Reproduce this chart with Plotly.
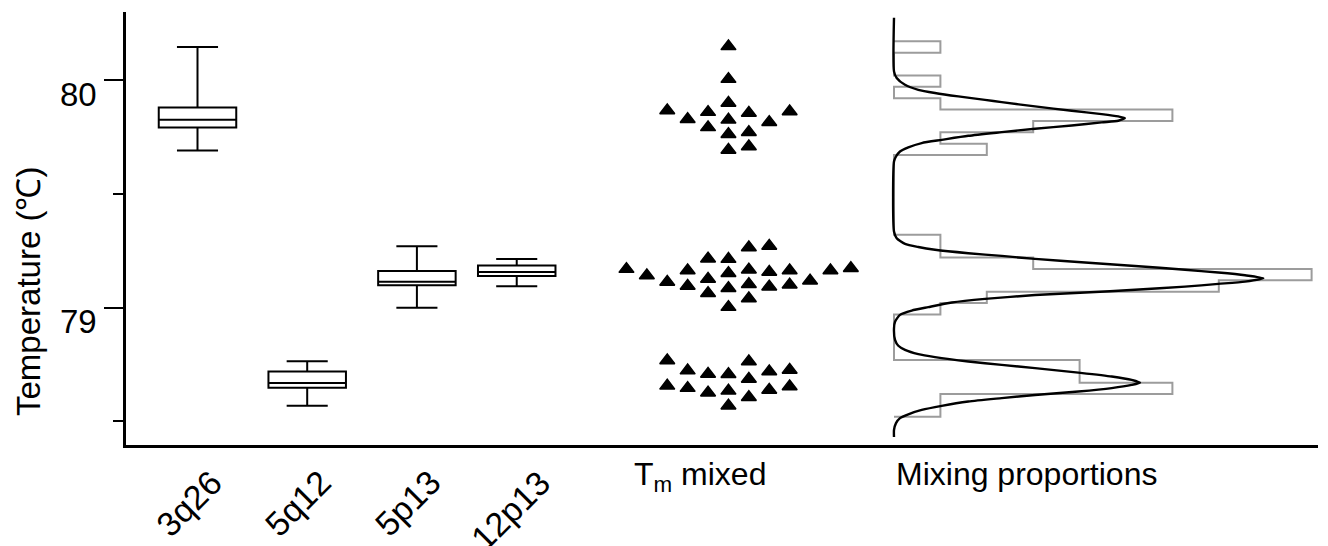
import numpy as np
import plotly.graph_objects as go

# ---------------- data ----------------
categories = ["3q26", "5q12", "5p13", "12p13"]
box_low = [79.690, 78.569, 78.999, 79.094]
box_q1 = [79.791, 78.648, 79.098, 79.139]
box_med = [79.825, 78.669, 79.114, 79.156]
box_q3 = [79.879, 78.719, 79.161, 79.185]
box_high = [80.145, 78.764, 79.270, 79.213]

mixed_label = "T<sub>m</sub> mixed"
mixed_tm = [
    80.148, 80.004, 79.899, 79.862, 79.855, 79.825, 79.792, 79.815, 79.762,
    79.828, 79.859, 79.866, 79.771, 79.708, 79.693,
    79.163, 79.156, 79.141, 79.118, 79.173, 79.103, 79.166, 79.095, 79.063,
    79.264, 79.213, 79.092, 79.002, 79.169, 79.215, 79.100, 79.040, 79.271,
    79.112, 79.085, 79.126, 79.151, 79.163, 79.163,
    78.767, 78.726, 78.719, 78.707, 78.686, 78.708, 78.723, 78.763, 78.653,
    78.638, 78.626, 78.569, 78.606, 78.634, 78.646, 78.656,
]

hist_label = "Mixing proportions"
hist_start = 78.52
hist_end = 80.17
hist_bin = 0.05

# fitted mixture density (in histogram count units)
curve_temp = [
    80.274, 80.038, 80.009, 79.979, 79.957, 79.943, 79.928, 79.913, 79.903,
    79.884, 79.865, 79.850, 79.840, 79.833, 79.821, 79.814, 79.800, 79.786,
    79.771, 79.755, 79.737, 79.723, 79.704, 79.686, 79.664, 79.642,
    79.334, 79.305, 79.280, 79.266, 79.254, 79.239, 79.227, 79.214, 79.198,
    79.183, 79.166, 79.154, 79.142, 79.129, 79.114, 79.104, 79.092, 79.078,
    79.066, 79.055, 79.038, 79.022, 79.002, 78.987, 78.968, 78.938, 78.909,
    78.858, 78.832, 78.814, 78.795, 78.782, 78.763, 78.748, 78.734, 78.714,
    78.697, 78.682, 78.670, 78.660, 78.646, 78.631, 78.616, 78.602, 78.587,
    78.568, 78.550, 78.531, 78.514, 78.492, 78.462, 78.431,
]
curve_count = [
    0, 0, 0.058, 0.237, 0.524, 0.884, 1.386, 1.961, 2.321,
    3.039, 3.830, 4.476, 4.834, 4.978, 4.834, 4.476, 3.830, 3.039,
    2.321, 1.601, 1.028, 0.597, 0.308, 0.129, 0.043, 0,
    0, 0.058, 0.237, 0.524, 0.884, 1.601, 2.321, 3.039, 4.116,
    5.194, 6.272, 6.989, 7.565, 7.959, 7.565, 6.989, 6.272, 5.194,
    4.116, 3.039, 1.961, 1.244, 0.739, 0.381, 0.129, 0.022, 0,
    0.022, 0.093, 0.237, 0.524, 0.884, 1.601, 2.321, 3.039, 3.972,
    4.692, 5.123, 5.302, 5.123, 4.692, 3.972, 3.039, 2.321, 1.601,
    1.028, 0.597, 0.308, 0.129, 0.043, 0, 0,
]

y_range = [78.396, 80.299]

# ---------------- layout geometry ----------------
W, H = 1328, 546
M_L, M_R, M_T, M_B = 126, 10, 12, 101
PLOT_W = W - M_L - M_R
PLOT_H = H - M_T - M_B

slot_pos = [0, 1, 2, 2.91, 4.84]        # column slots: 4 boxes + mixed swarm
SLOT_PX = 109.7                          # pixels per slot
SLOT0_PX = 197.5 - M_L                   # pixel (inside plot) of slot 0
x_range = [-SLOT0_PX / SLOT_PX, (PLOT_W - SLOT0_PX) / SLOT_PX]

COUNT_PX = 46.4                          # pixels per histogram count
HIST0_PX = 894 - M_L                     # pixel (inside plot) of count 0
x2_range = [-HIST0_PX / COUNT_PX, (PLOT_W - HIST0_PX) / COUNT_PX]

PX_PER_DEG = PLOT_H / (y_range[1] - y_range[0])

FONT = "Liberation Sans, Arial, Helvetica, sans-serif"
FS = 32

# ---------------- beeswarm layout for the mixed column ----------------
def swarm_columns(values, px_per_unit, min_gap_px):
    vals = np.asarray(values)
    order = np.argsort(vals, kind="stable")
    placed = []
    cols = np.zeros(len(vals))
    cand = [0]
    for k in range(1, 30):
        cand += [k, -k]
    for i in order:
        y = vals[i] * px_per_unit
        for c in cand:
            if all(not (pc == c and abs(py - y) < min_gap_px) for pc, py in placed):
                break
        placed.append((c, y))
        cols[i] = c
    return cols

STEP_PX = 20.4
cols = swarm_columns(mixed_tm, PX_PER_DEG, 14.0)
swarm_x = slot_pos[4] + cols * STEP_PX / SLOT_PX

# ---------------- histogram step outline ----------------
n_bins = int(round((hist_end - hist_start) / hist_bin))
edges = hist_start + hist_bin * np.arange(n_bins + 1)
counts, _ = np.histogram(mixed_tm, bins=edges)
step_x, step_y = [0.0], [edges[0]]
for i in range(n_bins):
    step_x += [counts[i], counts[i]]
    step_y += [edges[i], edges[i + 1]]
step_x.append(0.0)
step_y.append(edges[-1])

# ---------------- figure ----------------
fig = go.Figure()

fig.add_trace(go.Box(
    x=slot_pos[:4], q1=box_q1, median=box_med, q3=box_q3,
    lowerfence=box_low, upperfence=box_high,
    width=77.5 / SLOT_PX, whiskerwidth=0.53,
    line=dict(color="black", width=2), fillcolor="white",
    boxpoints=False, showlegend=False, hoverinfo="skip",
))

fig.add_trace(go.Scatter(
    x=swarm_x, y=mixed_tm, mode="markers",
    marker=dict(symbol="triangle-up", size=13, color="black",
                line=dict(color="black", width=1.5)),
    showlegend=False, hoverinfo="skip",
))

fig.add_trace(go.Scatter(
    x=step_x, y=step_y, xaxis="x2", mode="lines",
    line=dict(color="#9c9c9c", width=2),
    showlegend=False, hoverinfo="skip",
))

fig.add_trace(go.Scatter(
    x=curve_count, y=curve_temp, xaxis="x2", mode="lines",
    line=dict(color="black", width=2.4, shape="spline", smoothing=0.6),
    showlegend=False, hoverinfo="skip",
))

annotations = []
label_shift = [35, 34, 34, 44]
for pos, lab, xs in zip(slot_pos[:4], categories, label_shift):
    annotations.append(dict(
        x=pos, y=0, xref="x", yref="paper", text=lab, showarrow=False,
        textangle=-45, xanchor="right", yanchor="top", xshift=xs, yshift=-15,
        font=dict(family=FONT, size=34, color="black"),
    ))
annotations.append(dict(
    x=slot_pos[4], y=0, xref="x", yref="paper", text=mixed_label,
    showarrow=False, xanchor="center", yanchor="top", xshift=-28, yshift=-9,
    font=dict(family=FONT, size=FS, color="black"),
))
annotations.append(dict(
    x=0, y=0, xref="x2", yref="paper", text=hist_label,
    showarrow=False, xanchor="left", yanchor="top", xshift=0, yshift=-9,
    font=dict(family=FONT, size=FS, color="black"),
))
annotations.append(dict(
    x=(28 - M_L) / PLOT_W, y=(H - M_B - 291) / PLOT_H, xref="paper", yref="paper",
    text="Temperature (℃)", showarrow=False, textangle=-90,
    xanchor="center", yanchor="middle",
    font=dict(family=FONT, size=33, color="black"),
))

fig.update_layout(
    width=W, height=H,
    margin=dict(l=M_L, r=M_R, t=M_T, b=M_B),
    paper_bgcolor="white", plot_bgcolor="white",
    showlegend=False,
    xaxis=dict(range=x_range, showgrid=False, zeroline=False, showline=True,
               linecolor="black", linewidth=2.5, ticks="", showticklabels=False,
               fixedrange=True),
    xaxis2=dict(range=x2_range, overlaying="x", visible=False, fixedrange=True),
    yaxis=dict(range=y_range, showgrid=False, zeroline=False, showline=True,
               linecolor="black", linewidth=2.5,
               tickmode="linear", tick0=79, dtick=1,
               ticks="outside", ticklen=19, tickwidth=2.2, tickcolor="black",
               tickfont=dict(family=FONT, size=FS + 1, color="black"),
               ticklabelshift=14, ticklabelstandoff=1,
               minor=dict(dtick=0.5, tick0=78.5, ticks="outside", ticklen=10,
                          tickwidth=2.2, tickcolor="black"),
               fixedrange=True),
    annotations=annotations,
)

fig.write_html("out.html",
               config={"displayModeBar": False},
               post_script="document.body.style.margin='0';"
                           "document.body.style.overflow='hidden';")
